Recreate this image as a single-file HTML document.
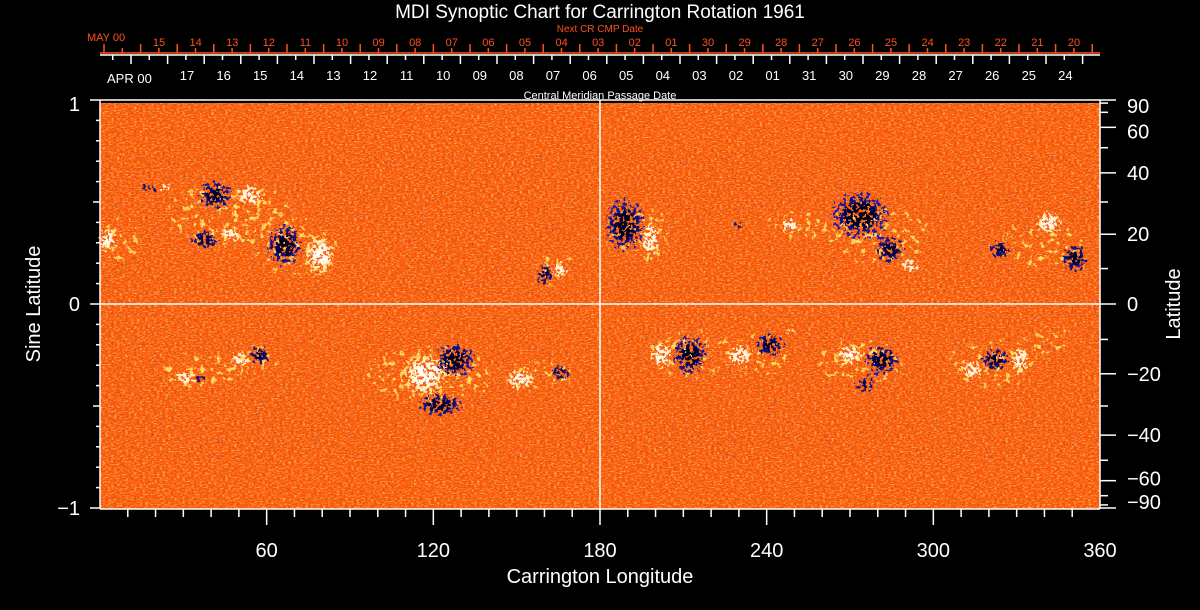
<!DOCTYPE html>
<html><head><meta charset="utf-8"><style>
html,body{margin:0;padding:0;background:#000;width:1200px;height:610px;overflow:hidden}
svg{display:block}
text{font-family:"Liberation Sans",sans-serif}
</style></head><body>
<svg id="s" width="1200" height="610" viewBox="0 0 1200 610" xmlns="http://www.w3.org/2000/svg">
<defs>
<filter id="nz" x="0" y="0" width="100%" height="100%">
<feTurbulence type="fractalNoise" baseFrequency="0.35 0.7" numOctaves="2" seed="4" result="t"/>
<feColorMatrix in="t" type="matrix" values="0 0 0 0 1  0 0 0 0 0.62  0 0 0 0 0.2  -3 0 0 0 1.75" result="c"/>
<feComposite in="c" in2="SourceGraphic" operator="in"/>
</filter>
<filter id="nz2" x="0" y="0" width="100%" height="100%">
<feTurbulence type="fractalNoise" baseFrequency="0.4 0.6" numOctaves="1" seed="9" result="t"/>
<feColorMatrix in="t" type="matrix" values="0 0 0 0 0.85  0 0 0 0 0.12  0 0 0 0 0.0  4 0 0 0 -1.9" result="c"/>
<feComposite in="c" in2="SourceGraphic" operator="in"/>
</filter>
<filter id="nz3" x="0" y="0" width="100%" height="100%">
<feTurbulence type="fractalNoise" baseFrequency="0.5" numOctaves="1" seed="21" result="t"/>
<feColorMatrix in="t" type="matrix" values="0 0 0 0 0.05  0 0 0 0 0.05  0 0 0 0 0.6  8 0 0 0 -5.4" result="c"/>
<feComposite in="c" in2="SourceGraphic" operator="in"/>
</filter>
<filter id="bl" x="0" y="0" width="100%" height="100%">
<feGaussianBlur in="SourceGraphic" stdDeviation="4" result="b"/>
<feTurbulence type="fractalNoise" baseFrequency="0.3" numOctaves="2" seed="3" result="t"/>
<feColorMatrix in="t" type="matrix" values="0 0 0 0 1  0 0 0 0 1  0 0 0 0 1  1.6 0 0 0 -0.2" result="t2"/>
<feComposite in="b" in2="t2" operator="in" result="m"/>
<feComponentTransfer in="m"><feFuncA type="discrete" tableValues="0 0 0 1 1 1"/></feComponentTransfer>
</filter>
<filter id="bl2" x="0" y="0" width="100%" height="100%">
<feGaussianBlur in="SourceGraphic" stdDeviation="4" result="b"/>
<feTurbulence type="fractalNoise" baseFrequency="0.3" numOctaves="2" seed="7" result="t"/>
<feColorMatrix in="t" type="matrix" values="0 0 0 0 1  0 0 0 0 1  0 0 0 0 1  1.6 0 0 0 -0.2" result="t2"/>
<feComposite in="b" in2="t2" operator="in" result="m"/>
<feComponentTransfer in="m"><feFuncA type="discrete" tableValues="0 0 0 1 1 1"/></feComponentTransfer>
</filter>
<filter id="pl" x="0" y="0" width="100%" height="100%">
<feGaussianBlur in="SourceGraphic" stdDeviation="8" result="b"/>
<feTurbulence type="fractalNoise" baseFrequency="0.18" numOctaves="3" seed="12" result="t"/>
<feColorMatrix in="t" type="matrix" values="0 0 0 0 1  0 0 0 0 1  0 0 0 0 1  2.5 0 0 0 -0.9" result="t2"/>
<feComposite in="b" in2="t2" operator="in" result="m"/>
<feComponentTransfer in="m"><feFuncA type="discrete" tableValues="0 0 0 0.8 1"/></feComponentTransfer>
</filter>
</defs>
<rect x="100" y="103" width="1000" height="406" fill="#fa5004"/>
<rect x="100" y="103" width="1000" height="406" fill="#fff" filter="url(#nz)" opacity="0.7"/>
<rect x="100" y="103" width="1000" height="406" fill="#fff" filter="url(#nz2)" opacity="0.7"/>
<rect x="100" y="150" width="1000" height="310" fill="#fff" filter="url(#nz3)" opacity="0.8"/>
<g id="bp" filter="url(#pl)"></g>
<g id="bw" filter="url(#bl2)"></g>
<g id="bd" filter="url(#bl)"></g>
<g id="ax" stroke="#fff" stroke-width="1.5" fill="none"></g>
<g id="tx" fill="#fff"></g>
</svg>
<script>
const NS="http://www.w3.org/2000/svg";
const ax=document.getElementById('ax'),tx=document.getElementById('tx'),bw=document.getElementById('bw'),bd=document.getElementById('bd'),bp=document.getElementById('bp');
function L(x1,y1,x2,y2,c){const l=document.createElementNS(NS,'line');l.setAttribute('x1',x1);l.setAttribute('y1',y1);l.setAttribute('x2',x2);l.setAttribute('y2',y2);if(c)l.setAttribute('stroke',c);ax.appendChild(l);}
function T(x,y,s,size,c,anchor){const t=document.createElementNS(NS,'text');t.setAttribute('x',x);t.setAttribute('y',y);t.setAttribute('font-size',size);t.setAttribute('text-anchor',anchor||'middle');if(c)t.setAttribute('fill',c);t.textContent=s;tx.appendChild(t);return t;}
function E(g,x,y,rx,ry,c,o){const e=document.createElementNS(NS,'ellipse');e.setAttribute('cx',x);e.setAttribute('cy',y);e.setAttribute('rx',rx);e.setAttribute('ry',ry);e.setAttribute('fill',c);e.setAttribute('opacity',o||1);g.appendChild(e);}
// plage areas
[[230,215,70,40],[300,250,45,35],[120,240,25,30],[555,270,25,25],[640,235,40,35],[800,225,40,20],[880,235,60,35],[1040,245,50,30],
[200,370,50,25],[260,360,30,20],[430,375,70,35],[540,375,40,20],[690,355,50,30],[760,355,40,25],[860,360,50,30],[990,365,50,30],[1050,340,30,20]].forEach(p=>{E(bp,p[0],p[1],p[2],p[3],'#ffe060',0.9);});
const B=[[150,188,10,5,'d'],[165,188,9,5,'w'],[215,195,15,12,'d'],[250,195,13,9,'w'],[205,240,13,9,'d'],[230,235,10,7,'w'],[285,245,15,18,'d'],[320,255,13,17,'w'],[108,240,8,12,'w'],[545,275,8,10,'d'],[560,270,8,8,'w'],
[625,225,17,22,'d'],[650,240,8,17,'w'],[740,225,7,5,'d'],[790,225,10,7,'w'],[860,215,24,20,'d'],[890,250,13,12,'d'],[910,265,9,7,'w'],[1075,258,12,12,'d'],[1048,222,12,10,'w'],[1000,250,10,9,'d'],
[185,378,12,6,'w'],[200,378,7,5,'d'],[260,355,10,9,'d'],[240,360,10,7,'w'],[425,375,20,18,'w'],[455,360,17,15,'d'],[440,405,20,10,'d'],[560,372,10,7,'d'],[520,380,13,9,'w'],
[662,355,10,12,'w'],[690,355,15,17,'d'],[740,355,13,9,'w'],[770,345,13,10,'d'],[790,330,7,5,'w'],[850,355,13,9,'w'],[882,360,15,13,'d'],[865,385,10,7,'d'],[995,360,13,10,'d'],[972,370,10,9,'w'],[1020,360,8,13,'w']];
B.forEach(b=>{if(b[4]=='w'){E(bw,b[0],b[1],b[2]*1.4,b[3]*1.4,'#ffd860',0.75);E(bw,b[0],b[1],b[2]*0.75,b[3]*0.75,'#fff',1);}else{E(bd,b[0],b[1],b[2]*1.4,b[3]*1.4,'#1818b0',0.7);E(bd,b[0],b[1],b[2]*0.8,b[3]*0.8,'#05051e',1);}});
L(100,100,1100,100);L(100,100,100,509);L(100,509,1100,509);L(1100,100,1100,509);
L(600,100,600,509);L(100,304,1100,304);
for(let d=10;d<360;d+=10){const x=100+d*1000/360;const maj=d%60==0;L(x,509,x,maj?525:517);if(maj)T(x,557,String(d),20);}
T(1100,557,'360',20);
for(let i=-10;i<=10;i++){const y=304-i*20.4;const maj=i%10==0;L(maj?90:100,y,maj?100:(i%5==0?93:96),y);}
T(80,111,'1',20,null,'end');T(80,311,'0',20,null,'end');T(80,515,'\u22121',20,null,'end');
for(let a=-90;a<=90;a+=10){const y=304-204*Math.sin(a*Math.PI/180);const lab=[90,60,40,20,0,-20,-40,-60,-90].includes(a);L(1100,y,lab?1116:1108,y);}
[90,60,40,20,0,-20,-40,-60,-90].forEach(a=>{const y=304-204*Math.sin(a*Math.PI/180);let yy=y+7;if(a==90)yy=113;if(a==-90)yy=509;if(a==60)yy=y+11;if(a==-60)yy=y+5;T(1127,yy,(a<0?'\u2212':'')+Math.abs(a),20,null,'start');});
L(100,53,1100,53,'#ff5020');L(100,55,1100,55);
for(let i=0;i<28;i++){const x=104+i*36.6;if(x>1100)break;L(x,53,x,44,'#ff5020');const xm=x+18.3;if(xm<1100)L(xm,53,xm,48,'#ff5020');}
for(let i=0;i<28;i++){const x=131+i*36.6;if(x>1100)break;L(x,55,x,64);const xm=x-18.3;if(xm>100)L(xm,55,xm,60);}
const R=['15','14','13','12','11','10','09','08','07','06','05','04','03','02','01','30','29','28','27','26','25','24','23','22','21','20'];
R.forEach((s,i)=>T(159+i*36.6,46,s,11,'#ff5020'));
T(87,41,'MAY 00',11,'#ff5020','start');
const W=['17','16','15','14','13','12','11','10','09','08','07','06','05','04','03','02','01','31','30','29','28','27','26','25','24'];
W.forEach((s,i)=>T(187+i*36.6,80,s,13));
T(107,83,'APR 00',13,null,'start');
T(600,32,'Next CR CMP Date',10,'#ff5020');
T(600,99,'Central Meridian Passage Date',11);
T(600,18,'MDI Synoptic Chart for Carrington Rotation 1961',19);
T(600,583,'Carrington Longitude',20);
let t1=T(0,0,'Sine Latitude',20);t1.setAttribute('transform','translate(40,304) rotate(-90)');
let t2=T(0,0,'Latitude',20);t2.setAttribute('transform','translate(1180,304) rotate(-90)');
</script>
</body></html>
